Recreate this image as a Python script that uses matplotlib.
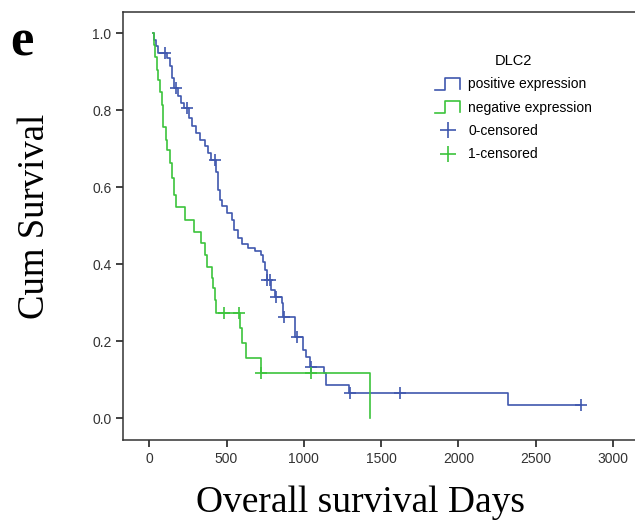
import numpy as np
import matplotlib
matplotlib.use("Agg")
import matplotlib.pyplot as plt
from matplotlib.lines import Line2D
from matplotlib.legend_handler import HandlerBase

# Kaplan-Meier steps (days, cumulative survival after the drop)
pos_times = [32, 45, 58, 117, 136, 149, 162, 188, 208, 227, 259, 279, 305, 331,
             363, 383, 402, 434, 447, 460, 473, 506, 538, 551, 571, 603, 642,
             681, 720, 739, 752, 760, 785, 811, 860, 866, 940, 945, 992, 1012,
             1040, 1128, 1141, 1291, 2322]
pos_surv = [0.983, 0.967, 0.949, 0.936, 0.915, 0.884, 0.858, 0.837, 0.819, 0.806,
            0.780, 0.759, 0.741, 0.723, 0.707, 0.689, 0.671, 0.640, 0.593, 0.567,
            0.551, 0.533, 0.515, 0.489, 0.468, 0.453, 0.442, 0.433, 0.424, 0.406,
            0.385, 0.359, 0.333, 0.315, 0.300, 0.263, 0.235, 0.211, 0.178, 0.159,
            0.133, 0.117, 0.0865, 0.066, 0.035]
pos_censored = [104, 175, 246, 422, 765, 778, 817, 872, 955, 1048, 1297, 1621, 2795]
pos_start, pos_end = 25, 2795

neg_times = [32, 39, 52, 58, 71, 84, 91, 110, 117, 136, 149, 162, 175, 233, 292,
             337, 363, 376, 409, 415, 428, 434, 584, 597, 629, 720, 1430]
neg_surv = [0.970, 0.938, 0.905, 0.879, 0.848, 0.814, 0.757, 0.723, 0.697, 0.663,
            0.624, 0.580, 0.549, 0.515, 0.484, 0.456, 0.424, 0.393, 0.365, 0.339,
            0.307, 0.274, 0.235, 0.196, 0.157, 0.118, 0.0]
neg_censored = [486, 580, 725, 1049]
neg_start, neg_end = 25, 1430

blue = "#4058AE"
green = "#3CC43C"

x_ticks = [0, 500, 1000, 1500, 2000, 2500, 3000]
y_ticks = [0.0, 0.2, 0.4, 0.6, 0.8, 1.0]


def km_curve(times, surv, start, end):
    x = [start] + list(times) + [end]
    y = [1.0] + list(surv) + [surv[-1]]
    return x, y


def level_at(times, surv, t):
    i = np.searchsorted(times, t, side="right")
    return 1.0 if i == 0 else surv[i - 1]


class StepHandler(HandlerBase):
    def create_artists(self, legend, orig_handle, xdescent, ydescent,
                       width, height, fontsize, trans):
        x0 = -xdescent
        y0 = -ydescent - 0.15 * height
        h = height * 1.2
        xs = [x0, x0 + 0.38 * width, x0 + 0.38 * width, x0 + width, x0 + width]
        ys = [y0, y0, y0 + h, y0 + h, y0 + 0.08 * h]
        line = Line2D(xs, ys, color=orig_handle.get_color(), lw=1.2, transform=trans)
        return [line]


plt.rcParams["font.family"] = ["Liberation Sans", "DejaVu Sans"]

fig = plt.figure(figsize=(6.35, 5.25), dpi=100)
ax = fig.add_axes([0.194, 0.162, 0.81, 0.815])

x, y = km_curve(pos_times, pos_surv, pos_start, pos_end)
ax.step(x, y, where="post", color=blue, lw=1.2)
x, y = km_curve(neg_times, neg_surv, neg_start, neg_end)
ax.step(x, y, where="post", color=green, lw=1.2)

pos_cy = [level_at(pos_times, pos_surv, t) for t in pos_censored]
neg_cy = [level_at(neg_times, neg_surv, t) for t in neg_censored]
ax.plot(pos_censored, pos_cy, "+", color=blue, ms=8, mew=1.2)
ax.plot(neg_censored, neg_cy, "+", color=green, ms=8, mew=1.2)

ax.set_xlim(-169, 3160)
ax.set_ylim(-0.057, 1.055)
ax.set_xticks(x_ticks)
ax.set_yticks(y_ticks)
ax.set_yticklabels([f"{v:.1f}" for v in y_ticks])
ax.tick_params(direction="out", length=5, width=1.3, labelsize=10, colors="#333333")
for s in ["top", "right"]:
    ax.spines[s].set_visible(False)
for s in ["left", "bottom"]:
    ax.spines[s].set_linewidth(1.1)
    ax.spines[s].set_color("#333333")
ax.plot([0, 1], [1, 1], transform=ax.transAxes, color="#333333", lw=1.1, clip_on=False)

handles = [Line2D([], [], color=blue), Line2D([], [], color=green),
           Line2D([], [], ls="none", marker="+", color=blue, ms=11, mew=1.2),
           Line2D([], [], ls="none", marker="+", color=green, ms=11, mew=1.2)]
labels = ["positive expression", "negative expression", "0-censored", "1-censored"]
leg = ax.legend(handles, labels, title="DLC2", loc="upper left",
                bbox_to_anchor=(0.582, 0.932), frameon=False, fontsize=10,
                title_fontsize=10.5, handlelength=1.8, handletextpad=0.6,
                labelspacing=0.68,
                handler_map={handles[0]: StepHandler(), handles[1]: StepHandler()})

fig.text(0.055, 0.588, "Cum Survival", rotation=90, ha="center", va="center",
         family="Liberation Serif", fontsize=26.5)
fig.text(0.567, 0.024, "Overall survival Days", ha="center", va="baseline",
         family="Liberation Serif", fontsize=27)
fig.text(0.016, 0.895, "e", ha="left", va="baseline", family="Liberation Serif",
         fontsize=38, fontweight="bold")

fig.savefig("out.png", dpi=100)
